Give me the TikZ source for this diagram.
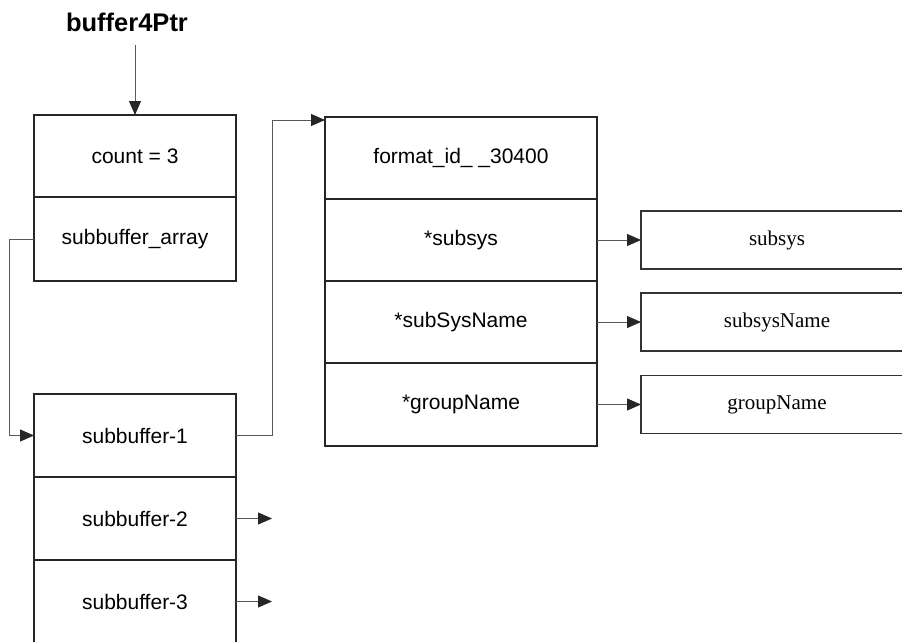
\documentclass[tikz,border=0pt]{standalone}
\usepackage{fontspec}
\setmainfont{Liberation Serif}
\setsansfont{Liberation Sans}
\usetikzlibrary{positioning, arrows.meta}

\tikzset{
  cell/.style={draw=black!85, line width=2pt, outer sep=0pt, minimum width=202pt,
    minimum height=83pt, font=\sffamily\fontsize{21}{25}\selectfont},
  field/.style={cell, minimum width=272pt, minimum height=82pt},
  target/.style={draw=black!80, line width=1.2pt, outer sep=0pt, minimum width=272pt,
    minimum height=58pt, font=\rmfamily\fontsize{21}{25}\selectfont},
  ptr/.style={-{Triangle[length=14pt,width=12pt,color=black!85]}, draw=black!65, line width=1pt},
}

\begin{document}
\begin{tikzpicture}[x=1pt, y=-1pt]
        % picture frame, boxes run past the edge
        \useasboundingbox (0,0) rectangle (902,642);
        \clip (0,0) rectangle (902,642);

        \node[font=\sffamily\bfseries\fontsize{25.5}{30}\selectfont] (name) at (127,22) {buffer4Ptr};

        \node[cell, minimum height=82pt] (count) at (135,156) {count = 3};
        \node[cell, below=0pt of count, minimum height=84pt] (array) {subbuffer\_array};

        \node[cell, below=113pt of array] (sb1) {subbuffer-1};
        \node[cell, below=0pt of sb1] (sb2) {subbuffer-2};
        \node[cell, below=0pt of sb2] (sb3) {subbuffer-3};

        \node[field] (fmt) at (461,158) {format\_id\_ \_30400};
        \node[field, below=0pt of fmt] (subsys) {*subsys};
        \node[field, below=0pt of subsys] (sysname) {*subSysName};
        \node[field, below=0pt of sysname, minimum height=83pt] (group) {*groupName};

        \node[target, right=44pt of subsys] (t1) {subsys};
        \node[target, right=44pt of sysname] (t2) {subsysName};
        \node[target, right=44pt of group] (t3) {groupName};

        \draw[ptr] (count.north) ++(0,-70) -- (count.north);
        \draw[ptr] (array.west) -- ++(-25,0) |- (sb1.west);
        \draw[ptr] (sb1.east) -- ++(36,0) |- ([yshift=-3pt]fmt.north west);
        \draw[ptr] (sb2.east) -- ++(36,0);
        \draw[ptr] (sb3.east) -- ++(36,0);

        \foreach \f/\t in
        {subsys/t1, sysname/t2, group/t3}
        {
            \draw[ptr] (\f) -- (\t);
        };

\end{tikzpicture}
\end{document}
